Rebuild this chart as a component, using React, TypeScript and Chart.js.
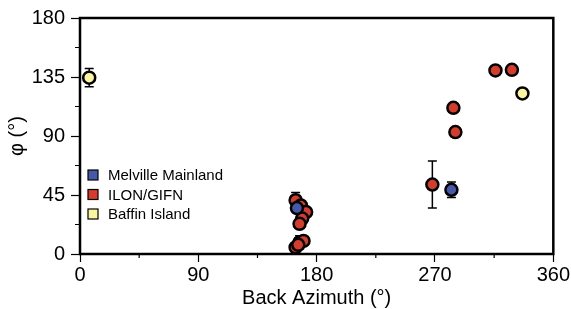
import React, { useEffect, useRef } from "react";
import { Chart, registerables } from "chart.js";

Chart.register(...registerables);

// ---- data ----
const seriesNames = ["Melville Mainland", "ILON/GIFN", "Baffin Island"];
const seriesColors = ["#4658a8", "#d63c2c", "#fbf59e"];

const melvilleAz = [165, 282.5];
const melvillePhi = [35, 49];
const melvilleErr = [3, 6];

const ilonAz = [164, 168, 172, 169, 167, 164, 167, 170, 166, 268, 284, 285.5, 316, 328.5];
const ilonPhi = [41, 37, 32, 27, 23, 5, 9, 10, 7, 53, 111.5, 93, 140, 140.5];
const ilonErr = [6, 3, 3, 2, 2, 2, 5, 2, 2, 18, 3, 3, 3, 2];

const baffinAz = [7, 336.5];
const baffinPhi = [134.5, 122.5];
const baffinErr = [7, 1];

const xTicks = [0, 90, 180, 270, 360];
const yTicks = [0, 45, 90, 135, 180];
const xMinorTicks = [45, 135, 225, 315];
const yMinorTicks = [22.5, 67.5, 112.5, 157.5];

const FONT = "'Liberation Sans', Arial, Helvetica, sans-serif";

const toPoints = (xs: number[], ys: number[]) => xs.map((x, i) => ({ x, y: ys[i] }));
const errors = [melvilleErr, ilonErr, baffinErr];

const errorBarPlugin = {
  id: "errorBars",
  beforeDatasetsDraw(chart: any) {
    const { ctx } = chart;
    const yScale = chart.scales.y;
    ctx.save();
    ctx.strokeStyle = "#000";
    ctx.lineWidth = 1.5;
    chart.data.datasets.forEach((ds: any, di: number) => {
      const meta = chart.getDatasetMeta(di);
      ds.data.forEach((p: any, i: number) => {
        const e = errors[di][i];
        const el = meta.data[i];
        const x = el.x;
        const y1 = yScale.getPixelForValue(p.y - e);
        const y2 = yScale.getPixelForValue(p.y + e);
        ctx.beginPath();
        ctx.moveTo(x, y1);
        ctx.lineTo(x, y2);
        ctx.moveTo(x - 4.5, y1);
        ctx.lineTo(x + 4.5, y1);
        ctx.moveTo(x - 4.5, y2);
        ctx.lineTo(x + 4.5, y2);
        ctx.stroke();
      });
    });
    ctx.restore();
  },
};

const framePlugin = {
  id: "frame",
  afterDraw(chart: any) {
    const { ctx, chartArea: a } = chart;
    const xs = chart.scales.x;
    const ys = chart.scales.y;
    ctx.save();
    ctx.strokeStyle = "#000";
    ctx.lineWidth = 1.2;
    ctx.beginPath();
    xMinorTicks.forEach((v) => {
      const px = xs.getPixelForValue(v);
      ctx.moveTo(px, a.bottom);
      ctx.lineTo(px, a.bottom + 4);
    });
    yMinorTicks.forEach((v) => {
      const py = ys.getPixelForValue(v);
      ctx.moveTo(a.left, py);
      ctx.lineTo(a.left - 5, py);
    });
    ctx.stroke();
    ctx.lineWidth = 2.5;
    ctx.strokeRect(a.left, a.top, a.right - a.left, a.bottom - a.top);

    // legend
    ctx.font = `15px ${FONT}`;
    ctx.textBaseline = "middle";
    ctx.textAlign = "left";
    seriesNames.forEach((name, i) => {
      const cy = a.top + 157 + i * 19.5;
      const sx = a.left + 8;
      ctx.fillStyle = seriesColors[i];
      ctx.fillRect(sx, cy - 5, 10, 10);
      ctx.lineWidth = 1.2;
      ctx.strokeStyle = "#000";
      ctx.strokeRect(sx, cy - 5, 10, 10);
      ctx.fillStyle = "#000";
      ctx.fillText(name, sx + 20, cy + 1);
    });
    ctx.restore();
  },
};

export default function App() {
  const ref = useRef<HTMLCanvasElement | null>(null);

  useEffect(() => {
    if (!ref.current) return;
    const makeDs = (i: number, xs: number[], ys: number[]) => ({
      label: seriesNames[i],
      data: toPoints(xs, ys),
      backgroundColor: seriesColors[i],
      borderColor: "#000",
      borderWidth: 2.5,
      pointRadius: 6,
      pointHoverRadius: 6,
      clip: false as any,
    });
    const chart = new Chart(ref.current, {
      type: "scatter",
      data: {
        datasets: [
          makeDs(0, melvilleAz, melvillePhi),
          makeDs(1, ilonAz, ilonPhi),
          makeDs(2, baffinAz, baffinPhi),
        ],
      },
      options: {
        animation: false,
        responsive: false,
        maintainAspectRatio: false,
        layout: { padding: { top: 16, right: 16, left: 0, bottom: 0 } },
        plugins: { legend: { display: false }, tooltip: { enabled: false } },
        scales: {
          x: {
            type: "linear",
            min: 0,
            max: 360,
            afterBuildTicks: (s: any) => {
              s.ticks = xTicks.map((v) => ({ value: v }));
            },
            afterFit: (s: any) => {
              s.height = 55;
            },
            ticks: {
              color: "#000",
              font: { family: FONT, size: 20 },
              padding: 1,
              maxRotation: 0,
              autoSkip: false,
            },
            grid: {
              drawOnChartArea: false,
              drawTicks: true,
              tickLength: 8,
              tickColor: "#000",
              tickWidth: 1.2,
            },
            border: { display: false },
            title: {
              display: true,
              text: "Back Azimuth (°)",
              color: "#000",
              font: { family: FONT, size: 20 },
              padding: { top: 0, bottom: -1 },
            },
          },
          y: {
            type: "linear",
            min: 0,
            max: 180,
            afterBuildTicks: (s: any) => {
              s.ticks = yTicks.map((v) => ({ value: v }));
            },
            afterFit: (s: any) => {
              s.width = 80;
            },
            ticks: {
              color: "#000",
              font: { family: FONT, size: 20 },
              padding: 6,
              autoSkip: false,
            },
            grid: {
              drawOnChartArea: false,
              drawTicks: true,
              tickLength: 9,
              tickColor: "#000",
              tickWidth: 1.2,
            },
            border: { display: false },
            title: {
              display: true,
              text: "φ (°)",
              color: "#000",
              font: { family: FONT, size: 20 },
              padding: { top: 5, bottom: 0 },
            },
          },
        },
      },
      plugins: [errorBarPlugin, framePlugin],
    });
    return () => chart.destroy();
  }, []);

  return (
    <div style={{ position: "fixed", left: 0, top: 0, width: 571, height: 309, background: "#fff" }}>
      <canvas ref={ref} width={571} height={309} style={{ width: 571, height: 309, display: "block" }} />
    </div>
  );
}
